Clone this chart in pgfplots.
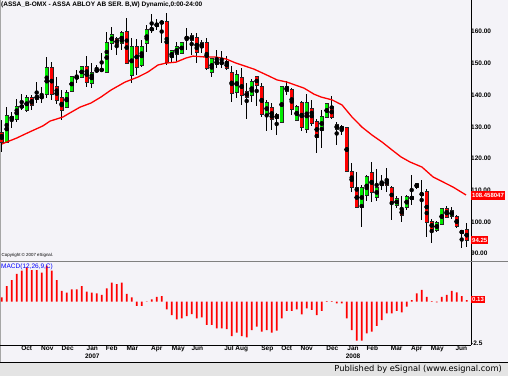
\documentclass[border=0pt]{standalone}
\usepackage{pgfplots}
\pgfplotsset{compat=1.18}
\usepackage{pgfplotstable}
\usepackage{fontspec}
\setmainfont{Liberation Sans}
\newfontfamily\dejavu{DejaVu Sans}
\definecolor{bg}{RGB}{244,243,248}
\definecolor{band}{RGB}{228,228,228}
\definecolor{cgreen}{RGB}{0,235,0}
\definecolor{cred}{RGB}{255,0,0}

\pgfplotstableread{
i o h l c
0 128.0 132.1 122.1 125.2
1 125.2 136.2 124.9 133.4
2 133.1 134.7 129.6 132.5
3 132.5 138.8 131.5 136.2
4 136.2 140.3 135.3 136.6
5 135.3 140.0 134.7 139.1
6 139.1 140.0 135.3 136.9
7 138.8 144.1 137.5 139.7
8 139.2 142.6 137.5 139.5
9 140.3 152.0 139.0 148.5
10 148.5 150.4 138.5 140.3
11 142.5 145.7 137.2 138.5
12 139.1 141.6 132.1 135.3
13 136.2 141.6 135.9 140.7
14 141.3 146.0 141.0 145.7
15 145.7 147.9 143.8 145.4
16 145.7 149.2 145.4 148.9
17 148.9 152.3 142.6 144.1
18 143.8 150.1 142.2 147.0
19 147.6 149.5 147.0 147.9
20 147.9 153.3 147.3 148.0
21 147.3 159.9 147.3 156.4
22 156.4 161.5 154.2 159.0
23 157.7 158.3 152.6 156.1
24 156.4 160.2 154.2 159.6
25 159.9 164.3 150.1 150.1
26 146.3 158.0 143.8 155.2
27 155.2 157.7 146.3 148.9
28 149.5 157.4 148.9 155.2
29 156.4 162.1 153.6 160.5
30 160.7 165.6 159.6 160.9
31 161.8 164.0 160.5 162.4
32 163.1 163.7 156.4 162.7
33 163.1 165.9 149.5 150.4
34 151.8 154.2 150.4 153.9
35 153.0 156.8 150.4 155.2
36 153.3 156.8 153.0 156.4
37 158.0 161.2 154.2 158.1
38 157.4 159.6 152.6 158.6
39 158.0 159.6 150.1 153.6
40 155.2 157.4 153.3 156.4
41 156.4 158.0 147.9 148.5
42 147.3 151.7 145.7 151.4
43 150.8 154.2 148.5 149.8
44 150.1 153.9 148.5 150.2
45 150.4 152.3 147.9 148.5
46 147.0 149.2 137.8 140.7
47 141.0 147.9 139.0 146.3
48 145.4 148.5 136.9 140.0
49 141.0 143.8 132.5 139.4
50 140.0 145.1 137.8 144.1
51 145.7 146.0 136.6 143.2
52 142.5 143.8 133.1 134.0
53 134.0 138.5 128.7 137.5
54 135.9 137.5 129.0 132.5
55 132.7 134.4 127.4 133.7
56 131.5 142.9 131.2 142.5
57 142.5 144.4 140.0 141.3
58 141.6 142.2 133.7 135.6
59 132.1 136.9 131.8 136.2
60 137.5 138.1 128.7 129.9
61 129.3 140.3 128.0 137.5
62 135.6 138.5 130.3 131.2
63 131.5 132.5 121.7 126.8
64 129.0 135.3 123.3 133.1
65 133.1 137.5 132.8 137.2
66 136.2 139.7 132.5 133.1
67 130.6 131.5 124.3 129.3
68 129.3 130.6 127.4 129.9
69 129.6 129.9 115.7 116.1
70 115.7 118.6 109.4 111.0
71 110.7 115.7 104.7 104.7
72 104.7 111.6 98.4 110.7
73 108.5 114.8 106.6 114.2
74 115.4 118.9 106.3 109.4
75 107.9 116.7 106.6 110.7
76 112.3 114.8 110.1 111.6
77 113.2 117.0 109.4 111.6
78 110.7 111.3 100.6 106.3
79 105.3 108.2 104.4 107.2
80 103.8 108.2 100.0 102.2
81 104.7 108.5 103.8 107.9
82 107.2 114.8 105.3 107.9
83 112.0 112.3 110.4 111.0
84 108.8 113.2 100.6 108.7
85 109.4 110.4 95.2 100.0
86 100.0 100.9 93.3 97.8
87 97.4 100.3 96.8 99.7
88 99.3 104.4 99.0 104.1
89 104.1 105.0 101.2 101.5
90 101.9 104.7 100.9 103.4
91 101.5 102.2 98.1 98.7
92 97.1 97.1 91.8 96.5
93 97.4 99.6 92.1 94.25
}\ohlc

\pgfplotstableread{
i m
0.06 124.6
3.06 126.5
5.06 128.0
8.26 130.3
9.66 131.8
12.26 133.1
13.66 134.4
15.66 136.2
17.86 137.5
19.86 139.4
21.86 141.6
24.66 144.1
27.26 145.7
29.26 147.3
31.26 149.5
32.86 150.1
34.86 150.4
36.86 151.7
38.26 152.3
40.86 152.0
42.86 152.0
44.86 151.4
46.86 150.1
50.46 148.2
53.06 146.3
55.06 144.8
57.06 144.1
60.46 142.2
62.46 140.3
63.86 139.4
66.06 138.5
68.06 136.9
70.06 133.1
72.06 129.9
74.06 127.4
76.06 125.2
78.06 122.7
79.86 120.5
81.66 118.9
84.06 117.3
86.26 114.2
88.26 112.6
90.26 111.0
92.86 108.5
}\ma

\pgfplotstableread{
i v
0 0.27
1 0.95
2 1.31
3 1.68
4 1.88
5 2.08
6 1.92
7 1.92
8 1.76
9 2.18
10 1.88
11 1.31
12 0.65
13 0.55
14 0.75
15 0.75
16 0.95
17 0.61
18 0.55
19 0.51
20 0.41
21 0.81
22 1.15
23 1.07
24 1.15
25 0.47
26 0.27
27 -0.26
28 -0.26
29 0.02
30 0.14
31 0.30
32 0.34
33 -0.46
34 -0.81
35 -1.07
36 -1.01
37 -0.87
38 -0.75
39 -1.01
40 -0.95
41 -1.41
42 -1.41
43 -1.62
44 -1.62
45 -1.66
46 -2.08
47 -1.88
48 -2.08
49 -2.16
50 -1.72
51 -1.51
52 -1.82
53 -1.72
54 -1.88
55 -1.76
56 -1.01
57 -0.56
58 -0.56
59 -0.46
60 -0.77
61 -0.40
62 -0.50
63 -0.81
64 -0.55
65 0.04
66 0.04
67 -0.10
68 -0.10
69 -1.01
70 -1.72
71 -2.36
72 -2.36
73 -1.92
74 -1.82
75 -1.47
76 -1.11
77 -0.71
78 -0.71
79 -0.55
80 -0.65
81 -0.30
82 0.10
83 0.51
84 0.71
85 0.30
86 0.04
87 -0.04
88 0.30
89 0.41
90 0.65
91 0.57
92 0.34
93 0.10
}\macd

\begin{document}
\begin{tikzpicture}[x=1pt,y=1pt]
\fill[bg] (0pt,0pt) rectangle (508pt,376pt);
\fill[band] (0pt,0pt) rectangle (508pt,14pt);
\draw[black, line width=0.8pt] (0pt,14pt) -- (508pt,14pt);
\draw[gray, line width=0.8pt] (0pt,115pt) -- (508pt,115pt);
\draw[gray!70, line width=0.8pt] (0.4pt,14pt) -- (0.4pt,376pt);
\node[anchor=north west, inner sep=0pt, font=\bfseries\fontsize{6.5}{7}\selectfont] at (1pt,374.5pt) {(ASSA\_B-OMX - ASSA ABLOY AB SER. B,W) Dynamic,0:00-24:00};
\node[anchor=west, inner sep=0pt, font=\fontsize{4.4}{5}\selectfont] at (1.5pt,120.5pt) {Copyright \textcopyright{} 2007 eSignal.};
\node[anchor=base east, inner sep=0pt, font=\dejavu\fontsize{8.3}{9}\selectfont] at (502pt,5pt) {Published by eSignal (www.esignal.com)};

\begin{axis}[at={(0pt,115pt)}, anchor=south west, scale only axis,
  width=471pt, height=261pt,
  xmin=-0.34, xmax=93.86, ymin=87.67, ymax=170,
  axis x line=none, axis y line*=right,
  axis line style={-, black, line width=0.8pt},
  ytick={90,100,...,160}, ytick style={draw=none},
  yticklabel style={font=\bfseries\fontsize{6.5}{7}\selectfont, anchor=west, inner sep=1pt, xshift=-1pt},
  /pgf/number format/fixed, /pgf/number format/fixed zerofill,
  /pgf/number format/precision=2, /pgf/number format/assume math mode=true,
  clip=false]
% wicks
\addplot[only marks, mark=none, error bars/.cd, y dir=both, y explicit, error mark=none,
  error bar style={black, line width=1pt}]
  table[x=i, y expr={(\thisrow{h}+\thisrow{l})/2}, y error expr={(\thisrow{h}-\thisrow{l})/2}] {\ohlc};
% body outlines
\addplot[only marks, mark=none, error bars/.cd, y dir=both, y explicit, error mark=none,
  error bar style={black!85, line width=3.8pt}]
  table[x=i, y expr={(\thisrow{o}+\thisrow{c})/2}, y error expr={max(abs(\thisrow{o}-\thisrow{c})/2,0.2)+0.22}] {\ohlc};
% green bodies
\addplot[only marks, mark=none, restrict y to domain=0:1000, error bars/.cd, y dir=both, y explicit, error mark=none,
  error bar style={cgreen, line width=2.6pt}]
  table[x=i, y expr={\thisrow{c}>=\thisrow{o} ? (\thisrow{o}+\thisrow{c})/2 : -100}, y error expr={max(abs(\thisrow{o}-\thisrow{c})/2,0.2)}] {\ohlc};
% red bodies
\addplot[only marks, mark=none, restrict y to domain=0:1000, error bars/.cd, y dir=both, y explicit, error mark=none,
  error bar style={cred, line width=2.6pt}]
  table[x=i, y expr={\thisrow{c}<\thisrow{o} ? (\thisrow{o}+\thisrow{c})/2 : -100}, y error expr={max(abs(\thisrow{o}-\thisrow{c})/2,0.2)}] {\ohlc};
% moving average
\addplot[cred, line width=1.3pt] table[x=i, y=m] {\ma};
\node[anchor=west, fill=cred, text=white, font=\bfseries\fontsize{6}{7}\selectfont, inner xsep=1pt, inner ysep=0pt, minimum height=9pt] at (axis cs:93.86,108.3) {108.458047};
\node[anchor=west, fill=cred, text=white, font=\bfseries\fontsize{6}{7}\selectfont, inner xsep=1pt, inner ysep=0pt, minimum height=8pt] at (axis cs:93.86,94.25) {94.25};
\end{axis}

\begin{axis}[at={(0pt,31pt)}, anchor=south west, scale only axis,
  width=471pt, height=83pt,
  xmin=-0.34, xmax=93.86, ymin=-2.624, ymax=2.406,
  axis x line*=bottom, axis y line*=right,
  axis line style={-, black, line width=0.8pt},
  ytick={-2.5}, yticklabels={-2.5},
  xtick={5.0,9.12,13.2,18.12,22.0,26.12,31.0,35.32,39.12,45.46,48.0,53.12,57.0,61.0,66.12,70.26,74.12,79.0,83.0,87.12,91.92},
  xticklabels={Oct,Nov,Dec,{Jan\\2007},Feb,Mar,Apr,May,Jun,Jul,Aug,Sep,Oct,Nov,Dec,{Jan\\2008},Feb,Mar,Apr,May,Jun},
  tick style={draw=none},
  ticklabel style={font=\bfseries\fontsize{6.5}{8}\selectfont},
  xticklabel style={align=center, anchor=north, inner sep=1pt},
  yticklabel style={anchor=west, inner sep=1pt, xshift=-1pt},
  clip=false]
\addplot[ybar, bar width=1.7pt, fill=cred, draw=none] table[x=i, y=v] {\macd};
\node[anchor=north west, text=blue, font=\fontsize{6.5}{7}\selectfont, inner sep=0pt] at (rel axis cs:0,1) [xshift=1pt, yshift=-1.5pt] {MACD(12,26,9,C)};
\node[anchor=west, fill=cred, text=white, font=\bfseries\fontsize{6}{7}\selectfont, inner xsep=1pt, inner ysep=0pt, minimum height=7pt] at (axis cs:93.86,0.13) {0.13};
\end{axis}
\pgfresetboundingbox
\path[use as bounding box] (0pt,0pt) rectangle (508pt,376pt);
\end{tikzpicture}
\end{document}
